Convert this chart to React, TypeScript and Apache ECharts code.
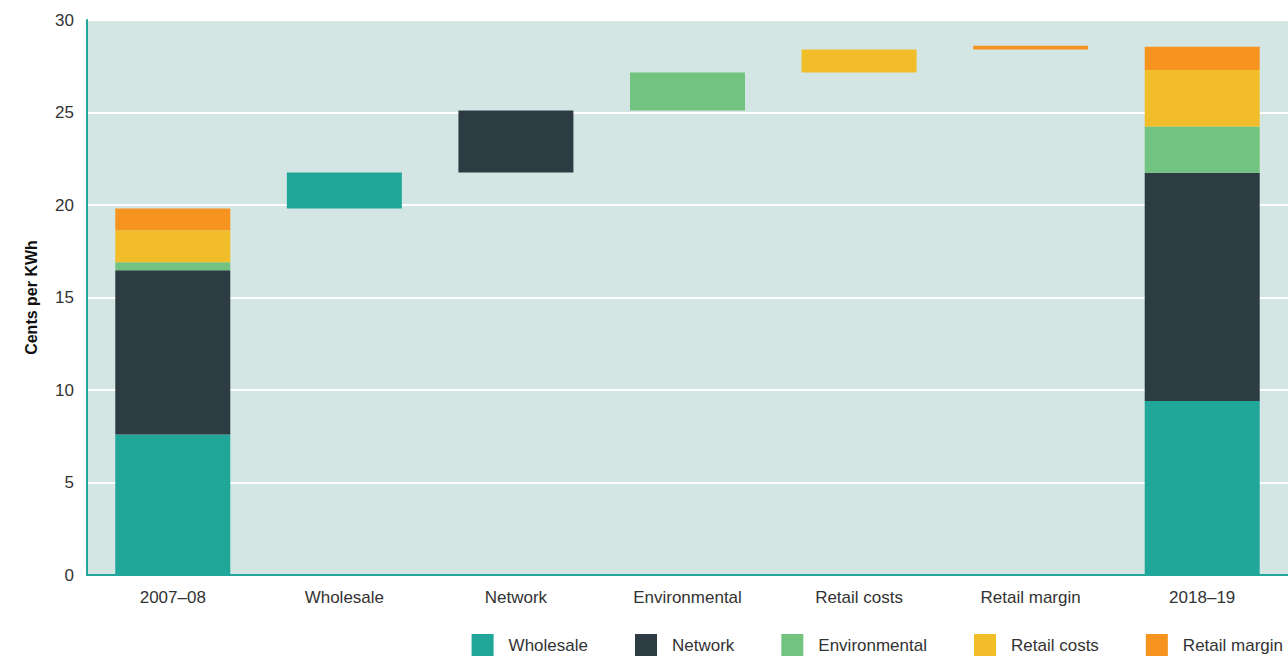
import React, { useEffect, useRef } from "react";
import * as echarts from "echarts";

const categories = ["2007–08", "Wholesale", "Network", "Environmental", "Retail costs", "Retail margin", "2018–19"];
const components = ["Wholesale", "Network", "Environmental", "Retail costs", "Retail margin"];
const colors = ["#20a79a", "#2d3b43", "#72c380", "#f1bd28", "#f6941f"];
const stack2007 = [7.6, 8.87, 0.43, 1.73, 1.18];
const changes = [1.95, 3.35, 2.05, 1.25, 0.2];
const stack2019 = [9.4, 12.35, 2.5, 3.05, 1.25];
const yTicks = [0, 5, 10, 15, 20, 25, 30];

export default function App() {
  const ref = useRef<HTMLDivElement>(null);
  useEffect(() => {
    const chart = echarts.init(ref.current!, undefined, { renderer: "svg" });
    const start = stack2007.reduce((a, b) => a + b, 0);
    const bases: number[] = [];
    let cum = start;
    changes.forEach((c) => {
      bases.push(+cum.toFixed(3));
      cum += c;
    });
    const baseData: any[] = ["-", ...bases, "-"];
    const font = "'Liberation Sans', Arial, Helvetica, sans-serif";
    const series: any[] = [
      {
        name: "base",
        type: "bar",
        stack: "t",
        data: baseData,
        itemStyle: { color: "transparent" },
        silent: true,
        barWidth: 115,
      },
      ...components.map((name, i) => ({
        name,
        type: "bar",
        stack: "t",
        barWidth: 115,
        itemStyle: { color: colors[i] },
        data: categories.map((_, ci) => {
          if (ci === 0) return stack2007[i];
          if (ci === categories.length - 1) return stack2019[i];
          return ci - 1 === i ? changes[i] : "-";
        }),
      })),
    ];
    chart.setOption({
      animation: false,
      textStyle: { fontFamily: font },
      grid: {
        left: 87,
        right: 0,
        top: 20,
        bottom: 83,
        show: true,
        backgroundColor: "#d4e6e3",
        borderWidth: 0,
      },
      legend: {
        data: components,
        right: 0,
        bottom: -3,
        itemWidth: 22,
        itemHeight: 22,
        itemGap: 47,
        icon: "rect",
        textStyle: { fontSize: 17, color: "#333", fontFamily: font, padding: [0, 0, 0, 10] },
      },
      xAxis: {
        type: "category",
        data: categories,
        axisLine: { lineStyle: { color: "#20a79a", width: 2 } },
        axisTick: { show: false },
        axisLabel: { fontSize: 17, color: "#333", margin: 14 },
      },
      yAxis: {
        type: "value",
        min: yTicks[0],
        max: yTicks[yTicks.length - 1],
        interval: 5,
        name: "Cents per KWh",
        nameLocation: "middle",
        nameGap: 48,
        nameTextStyle: { fontSize: 16, fontWeight: "bold", color: "#111" },
        axisLine: { show: true, lineStyle: { color: "#20a79a", width: 2 } },
        axisTick: { show: false },
        axisLabel: { fontSize: 17, color: "#333", margin: 13 },
        splitLine: { lineStyle: { color: "#ffffff", width: 2 } },
      },
      series,
    });
    return () => chart.dispose();
  }, []);
  return <div ref={ref} style={{ width: 1288, height: 658, position: "absolute", left: 0, top: 0 }} />;
}
